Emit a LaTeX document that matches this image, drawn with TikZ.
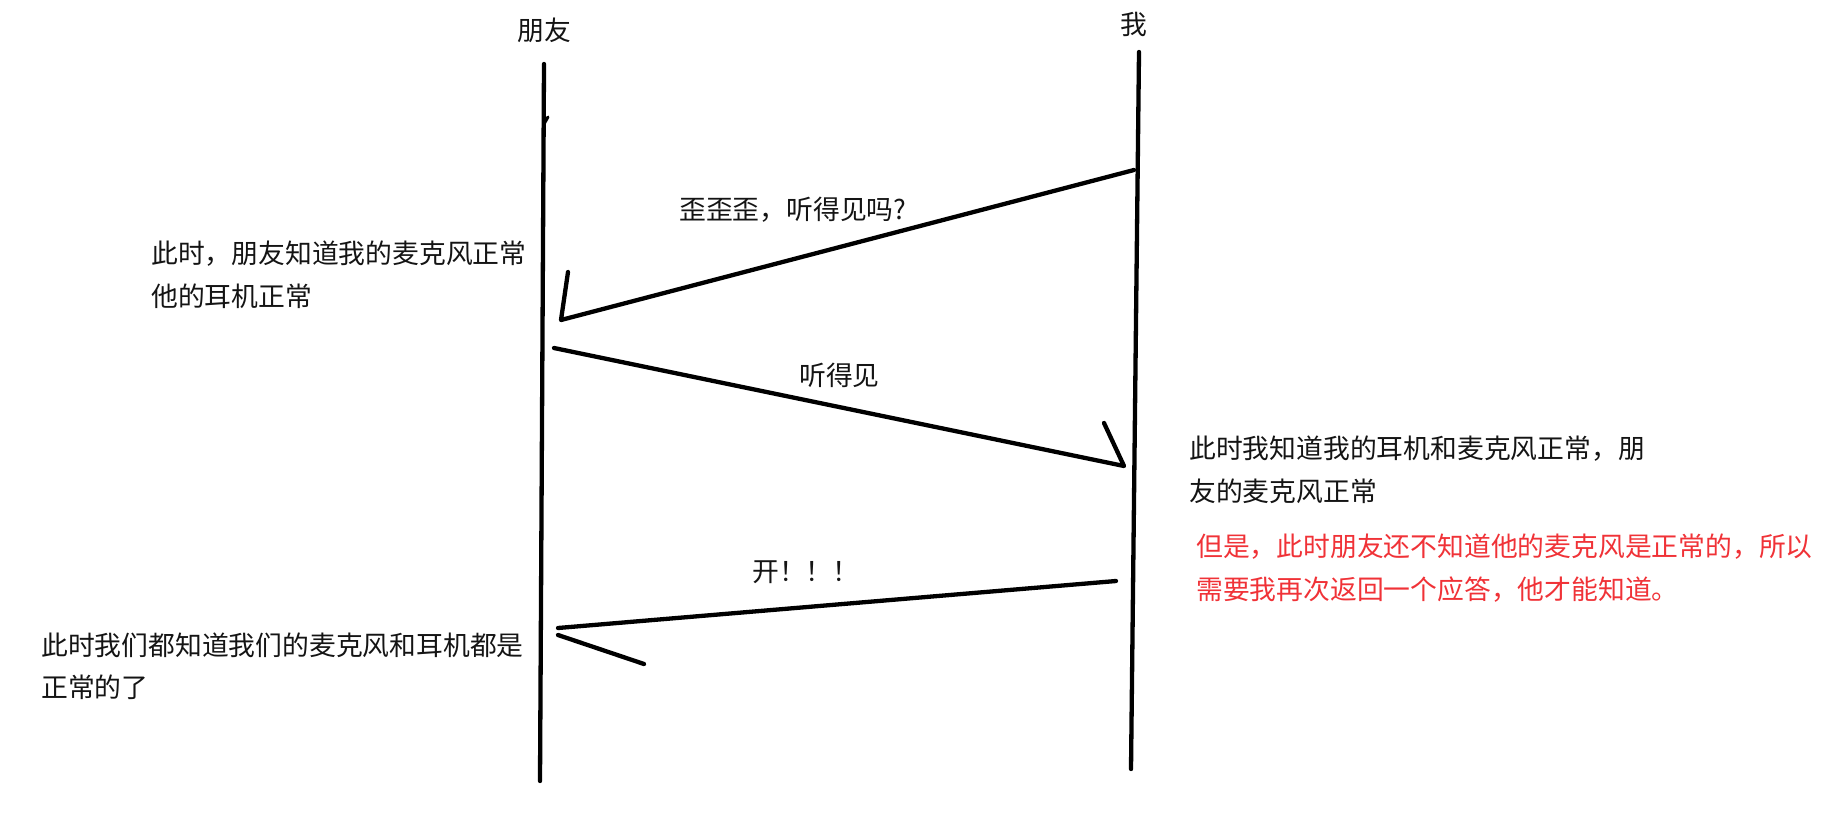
\documentclass[tikz,border=0pt]{standalone}
\usepackage{fontspec}
\newfontfamily\cjk{Noto Sans CJK SC}
\definecolor{ink}{RGB}{20,20,20}
\definecolor{redink}{RGB}{240,50,55}
\tikzset{
  stroke/.style={line width=4.3pt, line cap=round, line join=round, draw=black},
  lbl/.style={font=\cjk\fontsize{26.8}{32}\selectfont, text=ink, inner sep=0pt},
  rlbl/.style={lbl, text=redink},
}
\begin{document}
\begin{tikzpicture}[x=1pt,y=-1pt]
\useasboundingbox (0,0) rectangle (1842,822);
% headers
\node[lbl] (hf) at (544,30) {朋友};
\node[lbl] (hm) at (1134,24) {我};
% lifelines
\coordinate (f1) at (544,64);
\coordinate (f2) at (540,781);
\coordinate (m1) at (1139,52);
\coordinate (m2) at (1131,769);
\draw[stroke] (f1) -- (f2);
\draw[stroke] (m1) -- (m2);
\coordinate (ft1) at (544,124);
\coordinate (ft2) at (548,117);
\draw[line width=3pt, line cap=round] (ft1) -- (ft2);
% arrow 1
\coordinate (a1s) at (1134,170);
\coordinate (a1e) at (561,320);
\coordinate (a1h) at (568,272);
\draw[stroke] (a1s) -- (a1e) -- (a1h);
% arrow 2
\coordinate (a2s) at (554,348);
\coordinate (a2e) at (1124,466);
\coordinate (a2h) at (1104,423);
\draw[stroke] (a2s) -- (a2e) -- (a2h);
% arrow 3
\coordinate (a3s) at (1116,581);
\coordinate (a3e) at (558,628);
\coordinate (a3b) at (558,635);
\coordinate (a3h) at (644,664);
\draw[stroke] (a3s) -- (a3e);
\draw[stroke] (a3b) -- (a3h);
% message labels
\node[lbl, anchor=west] (m1l) at (679,210) {歪歪歪，听得见吗?};
\node[lbl, anchor=west] (m2l) at (799,375) {听得见};
\node[lbl, anchor=west] (m3l) at (752,572) {开！！！};
% notes
\node[lbl, anchor=west] (n1a) at (151,254) {此时，朋友知道我的麦克风正常};
\node[lbl, anchor=west] (n1b) at (151,296) {他的耳机正常};
\node[lbl, anchor=west] (n2a) at (1189,449) {此时我知道我的耳机和麦克风正常，朋};
\node[lbl, anchor=west] (n2b) at (1189,491) {友的麦克风正常};
\node[rlbl, anchor=west] (n3a) at (1196,547) {但是，此时朋友还不知道他的麦克风是正常的，所以};
\node[rlbl, anchor=west] (n3b) at (1196,590) {需要我再次返回一个应答，他才能知道。};
\node[lbl, anchor=west] (n4a) at (41,645) {此时我们都知道我们的麦克风和耳机都是};
\node[lbl, anchor=west] (n4b) at (41,687) {正常的了};
\end{tikzpicture}
\end{document}
